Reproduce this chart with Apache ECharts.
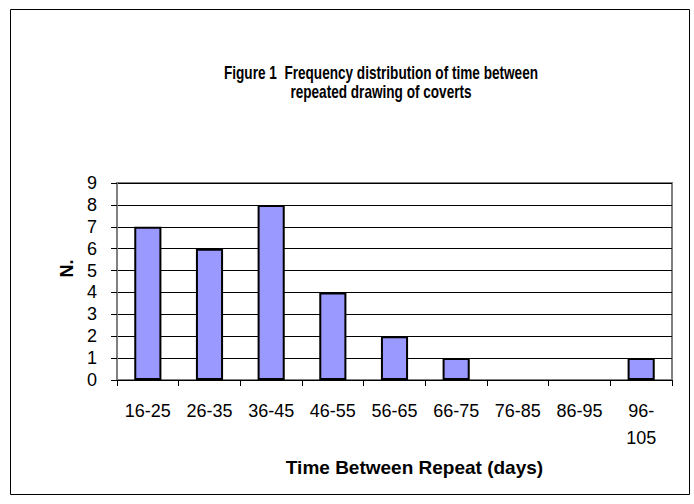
<!DOCTYPE html>
<html>
<head>
<meta charset="utf-8">
<script src="https://cdn.jsdelivr.net/npm/echarts@6/dist/echarts.min.js"></script>
<style>
html,body{margin:0;padding:0;background:#fff;}
#c{width:694px;height:504px;}
</style>
</head>
<body>
<div id="c"></div>
<script>
const titleLines = ['Figure 1  Frequency distribution of time between', 'repeated drawing of coverts'];
const categories = ['16-25', '26-35', '36-45', '46-55', '56-65', '66-75', '76-85', '86-95', '96-\n105'];
const counts = [7, 6, 8, 4, 2, 1, 0, 0, 1];
const yTicks = [0, 1, 2, 3, 4, 5, 6, 7, 8, 9];
const xAxisTitle = 'Time Between Repeat (days)';
const yAxisTitle = 'N.';

const FONT = '"Liberation Sans", Arial, sans-serif';
const chart = echarts.init(document.getElementById('c'), null, {renderer: 'svg'});
chart.setOption({
  animation: false,
  backgroundColor: '#fff',
  graphic: [{
    type: 'rect', shape: {x: 10.5, y: 9.5, width: 679, height: 485},
    style: {fill: 'none', stroke: '#000', lineWidth: 1}, silent: true
  }, {
    type: 'text', x: 381, y: 81.5, scaleY: 1.34, silent: true,
    style: {
      text: titleLines.join('\n'), align: 'center', verticalAlign: 'middle',
      font: 'bold 13.6px "Liberation Sans", Arial, sans-serif', lineHeight: 14.2, fill: '#000'
    }
  }],
  grid: {left: 117, right: 22, top: 183, bottom: 124, show: true, borderColor: '#808080', borderWidth: 2, backgroundColor: '#fff'},
  xAxis: {
    type: 'category', data: categories,
    name: xAxisTitle, nameLocation: 'middle', nameGap: 78,
    nameTextStyle: {fontFamily: FONT, fontSize: 19, fontWeight: 'bold', color: '#000', padding: [0, 0, 0, 40]},
    axisLine: {lineStyle: {color: '#000', width: 1}},
    axisTick: {show: true, length: 6, alignWithLabel: false, lineStyle: {color: '#000'}},
    axisLabel: {fontFamily: FONT, fontSize: 18, color: '#000', margin: 17, lineHeight: 27, interval: 0}
  },
  yAxis: {
    type: 'value', min: 0, max: 9, interval: 1,
    name: yAxisTitle, nameLocation: 'middle', nameGap: 40, nameRotate: 90,
    nameTextStyle: {fontFamily: FONT, fontSize: 18, fontWeight: 'bold', color: '#000', padding: [0, 0, 0, 26]},
    axisLine: {show: true, lineStyle: {color: '#808080', width: 2}},
    axisTick: {show: true, length: 6, lineStyle: {color: '#000'}},
    axisLabel: {fontFamily: FONT, fontSize: 18, color: '#000', margin: 20},
    splitLine: {show: true, lineStyle: {color: '#000', width: 1}}
  },
  series: [{
    type: 'bar', barWidth: '44%',
    data: counts.map(v => v === 0 ? {value: v, itemStyle: {borderWidth: 0}} : v),
    itemStyle: {color: '#9999ff', borderColor: '#000', borderWidth: 2}
  }]
});
</script>
</body>
</html>
